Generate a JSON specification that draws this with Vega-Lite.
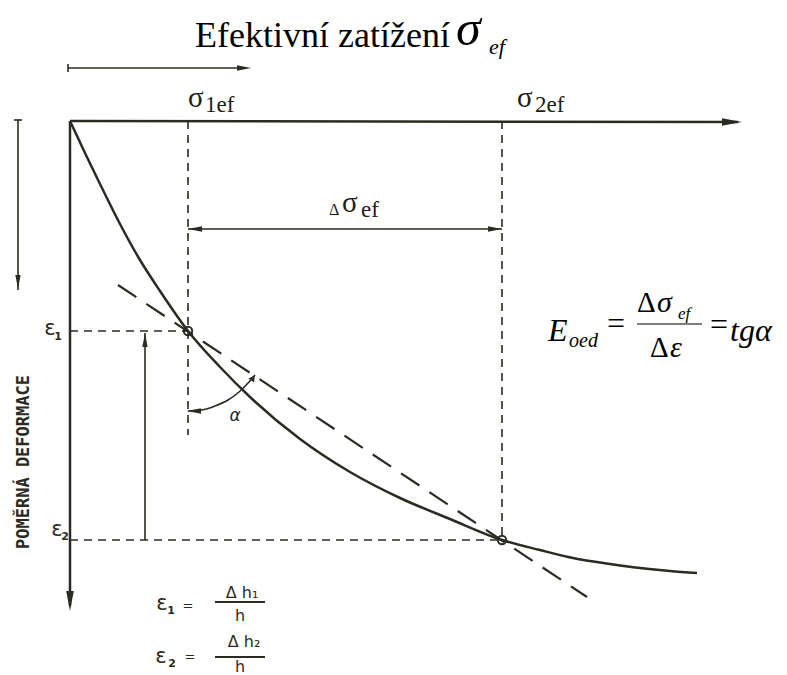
{
  "$schema": "https://vega.github.io/schema/vega-lite/v6.json",
  "width": 787,
  "height": 675,
  "autosize": {"type": "none"},
  "padding": 0,
  "background": "white",
  "config": {"view": {"stroke": null}},
  "encoding": {
    "x": {"field": "x", "type": "quantitative", "scale": {"domain": [-70, 717], "nice": false, "zero": false}, "axis": null},
    "y": {"field": "y", "type": "quantitative", "scale": {"domain": [-121, 554], "nice": false, "zero": false, "reverse": true}, "axis": null}
  },
  "layer": [
    {
      "data": {"values": [
        {"id": "sigma axis", "i": 0, "x": 0, "y": 0},
        {"id": "sigma axis", "i": 1, "x": 668, "y": 1},
        {"id": "epsilon axis", "i": 0, "x": 0, "y": 0},
        {"id": "epsilon axis", "i": 1, "x": 0, "y": 485}
      ]},
      "mark": {"type": "line", "stroke": "#2b2b22", "strokeWidth": 2.5},
      "encoding": {"detail": {"field": "id"}, "order": {"field": "i"}}
    },
    {
      "data": {"values": [
        {"id": "top arrow", "i": 0, "x": -2, "y": -53},
        {"id": "top arrow", "i": 1, "x": 172, "y": -53},
        {"id": "top tick", "i": 0, "x": -2, "y": -57},
        {"id": "top tick", "i": 1, "x": -2, "y": -49},
        {"id": "left arrow", "i": 0, "x": -52, "y": -1},
        {"id": "left arrow", "i": 1, "x": -52, "y": 169},
        {"id": "left tick", "i": 0, "x": -56, "y": -1},
        {"id": "left tick", "i": 1, "x": -48, "y": -1},
        {"id": "delta sigma", "i": 0, "x": 118, "y": 108},
        {"id": "delta sigma", "i": 1, "x": 432, "y": 108},
        {"id": "delta epsilon", "i": 0, "x": 75, "y": 212},
        {"id": "delta epsilon", "i": 1, "x": 75, "y": 419}
      ]},
      "mark": {"type": "line", "stroke": "#2b2b22", "strokeWidth": 1.6},
      "encoding": {"detail": {"field": "id"}, "order": {"field": "i"}}
    },
    {
      "data": {"values": [
        {"id": "s1", "i": 0, "x": 118, "y": 0},
        {"id": "s1", "i": 1, "x": 118, "y": 314},
        {"id": "s2", "i": 0, "x": 432, "y": 0},
        {"id": "s2", "i": 1, "x": 432, "y": 419},
        {"id": "e1", "i": 0, "x": 0, "y": 210},
        {"id": "e1", "i": 1, "x": 118, "y": 210},
        {"id": "e2", "i": 0, "x": 0, "y": 419},
        {"id": "e2", "i": 1, "x": 432, "y": 419}
      ]},
      "mark": {"type": "line", "stroke": "#2b2b22", "strokeWidth": 1.6, "strokeDash": [8, 6]},
      "encoding": {"detail": {"field": "id"}, "order": {"field": "i"}}
    },
    {
      "data": {"values": [
        {"i": 0, "x": 48, "y": 164},
        {"i": 1, "x": 517, "y": 476}
      ]},
      "mark": {"type": "line", "stroke": "#2b2b22", "strokeWidth": 2.2, "strokeDash": [22, 12]},
      "encoding": {"order": {"field": "i"}}
    },
    {
      "data": {"values": [
        {"x": 0, "y": 0}, {"x": 15, "y": 32}, {"x": 30, "y": 63}, {"x": 50, "y": 103},
        {"x": 70, "y": 139}, {"x": 90, "y": 170}, {"x": 118, "y": 210}, {"x": 150, "y": 246},
        {"x": 180, "y": 276}, {"x": 230, "y": 318}, {"x": 280, "y": 351}, {"x": 330, "y": 377},
        {"x": 380, "y": 398}, {"x": 432, "y": 419}, {"x": 470, "y": 429}, {"x": 503, "y": 437},
        {"x": 540, "y": 443}, {"x": 570, "y": 447}, {"x": 600, "y": 450}, {"x": 627, "y": 452}
      ]},
      "mark": {"type": "line", "stroke": "#2b2b22", "strokeWidth": 2.5, "interpolate": "monotone"}
    },
    {
      "data": {"values": [
        {"x": 118, "y": 290}, {"x": 132, "y": 289}, {"x": 145, "y": 285}, {"x": 158, "y": 279},
        {"x": 169, "y": 271}, {"x": 179, "y": 261}, {"x": 185, "y": 254}
      ]},
      "mark": {"type": "line", "stroke": "#2b2b22", "strokeWidth": 1.6, "interpolate": "monotone"}
    },
    {
      "data": {"values": [
        {"dir": "right", "x": 662, "y": 1},
        {"dir": "down", "x": 0, "y": 480}
      ]},
      "mark": {"type": "point", "filled": true, "color": "#2b2b22", "opacity": 1, "size": 400},
      "encoding": {"shape": {"field": "dir", "type": "nominal", "legend": null,
        "scale": {"domain": ["right", "left", "up", "down"],
                  "range": ["M1,0L-1,-0.38L-1,0.38Z", "M-1,0L1,-0.38L1,0.38Z", "M0,-1L-0.38,1L0.38,1Z", "M0,1L-0.38,-1L0.38,-1Z"]}}}
    },
    {
      "data": {"values": [
        {"dir": "right", "x": 174, "y": -53},
        {"dir": "down", "x": -52, "y": 161},
        {"dir": "left", "x": 125, "y": 108},
        {"dir": "right", "x": 425, "y": 108},
        {"dir": "up", "x": 75, "y": 219},
        {"dir": "left", "x": 124, "y": 290}
      ]},
      "mark": {"type": "point", "filled": true, "color": "#2b2b22", "opacity": 1, "size": 196},
      "encoding": {"shape": {"field": "dir", "type": "nominal", "legend": null,
        "scale": {"domain": ["right", "left", "up", "down"],
                  "range": ["M1,0L-1,-0.38L-1,0.38Z", "M-1,0L1,-0.38L1,0.38Z", "M0,-1L-0.38,1L0.38,1Z", "M0,1L-0.38,-1L0.38,-1Z"]}}}
    },
    {
      "data": {"values": [{"x": 183, "y": 257}]},
      "mark": {"type": "point", "shape": "triangle-up", "angle": 34, "filled": true, "color": "#2b2b22", "opacity": 1, "size": 50}
    },
    {
      "data": {"values": [{"x": 118, "y": 210}, {"x": 432, "y": 419}]},
      "mark": {"type": "point", "shape": "circle", "filled": false, "stroke": "#2b2b22", "strokeWidth": 2, "opacity": 1, "size": 70}
    },
    {
      "data": {"values": [
        {"id": "frac", "i": 0, "x": 567, "y": 203},
        {"id": "frac", "i": 1, "x": 632, "y": 203}
      ]},
      "mark": {"type": "line", "stroke": "black", "strokeWidth": 1.2},
      "encoding": {"detail": {"field": "id"}, "order": {"field": "i"}}
    },
    {
      "data": {"values": [
        {"id": "f1", "i": 0, "x": 145, "y": 481},
        {"id": "f1", "i": 1, "x": 195, "y": 481},
        {"id": "f2", "i": 0, "x": 145, "y": 536},
        {"id": "f2", "i": 1, "x": 195, "y": 536}
      ]},
      "mark": {"type": "line", "stroke": "#2b2b22", "strokeWidth": 1.8},
      "encoding": {"detail": {"field": "id"}, "order": {"field": "i"}}
    },
    {
      "data": {"values": [{"x": 125, "y": -74, "t": "Efektivní zatížení"}]},
      "mark": {"type": "text", "font": "Liberation Serif", "fontSize": 36, "align": "left", "baseline": "alphabetic", "color": "black"},
      "encoding": {"text": {"field": "t"}}
    },
    {
      "data": {"values": [{"x": 386, "y": -76, "t": "σ"}]},
      "mark": {"type": "text", "font": "Liberation Serif", "fontStyle": "italic", "fontSize": 50, "align": "left", "baseline": "alphabetic", "color": "black"},
      "encoding": {"text": {"field": "t"}}
    },
    {
      "data": {"values": [{"x": 419, "y": -67, "t": "ef"}]},
      "mark": {"type": "text", "font": "Liberation Serif", "fontStyle": "italic", "fontSize": 22, "align": "left", "baseline": "alphabetic", "color": "black"},
      "encoding": {"text": {"field": "t"}}
    },
    {
      "data": {"values": [
        {"x": 118, "y": -14, "t": "σ"},
        {"x": 447, "y": -14, "t": "σ"},
        {"x": 272, "y": 91, "t": "σ"}
      ]},
      "mark": {"type": "text", "font": "Liberation Serif", "fontSize": 29, "align": "left", "baseline": "alphabetic", "color": "#1e1e18"},
      "encoding": {"text": {"field": "t"}}
    },
    {
      "data": {"values": [
        {"x": 135, "y": -9, "t": "1ef"},
        {"x": 465, "y": -9, "t": "2ef"},
        {"x": 291, "y": 96, "t": "ef"}
      ]},
      "mark": {"type": "text", "font": "Liberation Serif", "fontSize": 23, "align": "left", "baseline": "alphabetic", "color": "#1e1e18"},
      "encoding": {"text": {"field": "t"}}
    },
    {
      "data": {"values": [{"x": 259, "y": 94, "t": "Δ"}]},
      "mark": {"type": "text", "font": "Liberation Serif", "fontSize": 16, "align": "left", "baseline": "alphabetic", "color": "#1e1e18"},
      "encoding": {"text": {"field": "t"}}
    },
    {
      "data": {"values": [
        {"x": 478, "y": 220, "t": "E"},
        {"x": 660, "y": 220, "t": "tgα"}
      ]},
      "mark": {"type": "text", "font": "Liberation Serif", "fontStyle": "italic", "fontSize": 32, "align": "left", "baseline": "alphabetic", "color": "black"},
      "encoding": {"text": {"field": "t"}}
    },
    {
      "data": {"values": [{"x": 499, "y": 226, "t": "oed"}]},
      "mark": {"type": "text", "font": "Liberation Serif", "fontStyle": "italic", "fontSize": 20, "align": "left", "baseline": "alphabetic", "color": "black"},
      "encoding": {"text": {"field": "t"}}
    },
    {
      "data": {"values": [
        {"x": 537, "y": 213, "t": "="},
        {"x": 640, "y": 214, "t": "="}
      ]},
      "mark": {"type": "text", "font": "Liberation Serif", "fontSize": 32, "align": "left", "baseline": "alphabetic", "color": "black"},
      "encoding": {"text": {"field": "t"}}
    },
    {
      "data": {"values": [
        {"x": 567, "y": 191, "t": "Δ"},
        {"x": 580, "y": 236, "t": "Δ"}
      ]},
      "mark": {"type": "text", "font": "Liberation Serif", "fontSize": 29, "align": "left", "baseline": "alphabetic", "color": "black"},
      "encoding": {"text": {"field": "t"}}
    },
    {
      "data": {"values": [
        {"x": 587, "y": 191, "t": "σ"},
        {"x": 600, "y": 236, "t": "ε"}
      ]},
      "mark": {"type": "text", "font": "Liberation Serif", "fontStyle": "italic", "fontSize": 30, "align": "left", "baseline": "alphabetic", "color": "black"},
      "encoding": {"text": {"field": "t"}}
    },
    {
      "data": {"values": [{"x": 608, "y": 198, "t": "ef"}]},
      "mark": {"type": "text", "font": "Liberation Serif", "fontStyle": "italic", "fontSize": 17, "align": "left", "baseline": "alphabetic", "color": "black"},
      "encoding": {"text": {"field": "t"}}
    },
    {
      "data": {"values": [
        {"x": -20, "y": 208, "t": "ε"},
        {"x": -13, "y": 409, "t": "ε"},
        {"x": 92, "y": 483, "t": "ε"},
        {"x": 91, "y": 536, "t": "ε"}
      ]},
      "mark": {"type": "text", "font": "DejaVu Sans", "fontSize": 21, "align": "center", "baseline": "middle", "color": "#2b2b22"},
      "encoding": {"text": {"field": "t"}}
    },
    {
      "data": {"values": [
        {"x": -12, "y": 216, "t": "1"},
        {"x": -5, "y": 416, "t": "2"},
        {"x": 101, "y": 490, "t": "1"},
        {"x": 102, "y": 543, "t": "2"}
      ]},
      "mark": {"type": "text", "font": "DejaVu Sans", "fontSize": 11, "fontWeight": "bold", "align": "center", "baseline": "middle", "color": "#2b2b22"},
      "encoding": {"text": {"field": "t"}}
    },
    {
      "data": {"values": [
        {"x": 118, "y": 485, "t": "="},
        {"x": 120, "y": 536, "t": "="}
      ]},
      "mark": {"type": "text", "font": "DejaVu Sans", "fontSize": 13, "align": "center", "baseline": "middle", "color": "#2b2b22"},
      "encoding": {"text": {"field": "t"}}
    },
    {
      "data": {"values": [
        {"x": 172, "y": 472, "t": "Δ h₁"},
        {"x": 174, "y": 521, "t": "Δ h₂"},
        {"x": 170, "y": 495, "t": "h"},
        {"x": 170, "y": 546, "t": "h"}
      ]},
      "mark": {"type": "text", "font": "DejaVu Sans", "fontSize": 16, "align": "center", "baseline": "middle", "color": "#2b2b22"},
      "encoding": {"text": {"field": "t"}}
    },
    {
      "data": {"values": [{"x": 165, "y": 295, "t": "α"}]},
      "mark": {"type": "text", "font": "DejaVu Sans", "fontStyle": "italic", "fontSize": 17, "align": "center", "baseline": "middle", "color": "#2b2b22"},
      "encoding": {"text": {"field": "t"}}
    },
    {
      "data": {"values": [{"x": -46, "y": 341, "t": "POMĚRNÁ DEFORMACE"}]},
      "mark": {"type": "text", "font": "DejaVu Sans Mono", "fontWeight": "bold", "fontSize": 17, "angle": 270, "align": "center", "baseline": "middle", "color": "#2b2b22"},
      "encoding": {"text": {"field": "t"}}
    }
  ]
}
